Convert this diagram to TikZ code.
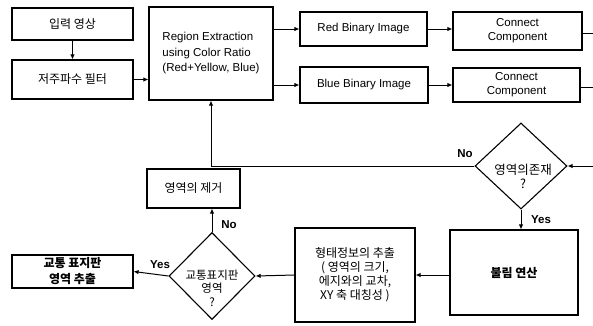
\documentclass[tikz,border=0pt]{standalone}
\usepackage{fontspec}
\setmainfont{Liberation Sans}
\newfontfamily\kr{Noto Sans CJK KR}
\usetikzlibrary{shapes.geometric,arrows.meta}
\begin{document}
\begin{tikzpicture}[x=1pt,y=-1pt,
  box/.style={draw,line width=1.1pt,inner sep=0pt,align=center},
  dia/.style={draw,diamond,line width=1.1pt,inner sep=0pt},
  arr/.style={line width=1pt,-{Latex[length=5pt,width=4.5pt]}},
  ln/.style={line width=1pt},
  en/.style={font=\fontsize{11.5}{14}\selectfont},
  ko/.style={font=\kr\fontsize{12}{15}\selectfont},
  lbl/.style={font=\bfseries\fontsize{11.5}{14}\selectfont}]
\useasboundingbox (0,0) rectangle (593,325);
% boxes
\node[box,ko,minimum width=121pt,minimum height=32pt] (in) at (72.5,24) {입력 영상};
\node[box,ko,minimum width=121pt,minimum height=39pt] (lpf) at (72.5,79.5) {저주파수 필터};
\node[box,minimum width=124pt,minimum height=93pt,align=left,font=\fontsize{11.5}{15.5}\selectfont] (reg) at (211,53.5) {Region Extraction\\using Color Ratio\\(Red+Yellow, Blue)};
\node[box,en,minimum width=127pt,minimum height=34pt] (red) at (363.5,29) {Red Binary Image};
\node[box,en,minimum width=128pt,minimum height=36pt] (blue) at (364,85) {Blue Binary Image};
\node[box,en,minimum width=129pt,minimum height=38pt] (cc1) at (517.5,31) {Connect\\Component};
\node[box,en,minimum width=127pt,minimum height=34pt] (cc2) at (516.5,85) {Connect\\Component};
\node[dia,minimum width=92pt,minimum height=86pt] (d1) at (521,166) {};
\node[ko,align=center,font=\kr\fontsize{12.5}{14}\selectfont] (d1t) at (523,176) {영역의존재\\?};
\node[box,ko,font=\kr\bfseries\fontsize{12}{15}\selectfont,minimum width=128pt,minimum height=85pt] (bool) at (514,272.5) {불림 연산};
\node[box,ko,font=\kr\fontsize{12}{14}\selectfont,minimum width=120pt,minimum height=94pt] (shp) at (355,275) {형태정보의 추출\\( 영역의 크기,\\에지와의 교차,\\XY 축 대칭성 )};
\node[dia,minimum width=86pt,minimum height=87pt] (d2) at (212,276) {};
\node[ko,align=center,font=\kr\fontsize{11.5}{13.5}\selectfont] (d2t) at (212,288) {교통표지판\\영역\\?};
\node[box,ko,minimum width=93pt,minimum height=39pt] (rm) at (193.5,188.5) {영역의 제거};
\node[box,ko,font=\kr\bfseries\fontsize{12}{16}\selectfont,minimum width=121pt,minimum height=33pt] (sign) at (72.5,271.5) {교통 표지판\\영역 추출};
% free ends
\coordinate (o1) at (593,33);
\coordinate (o2) at (593,87);
\coordinate (i3) at (593,166);
% connectors
\draw[arr] (in) -- (lpf);
\draw[arr] (lpf.east) -- (lpf.east -| reg.west);
\draw[arr] (reg.east |- red.west) -- (red.west);
\draw[arr] (reg.east |- blue.west) -- (blue.west);
\draw[arr] (red.east) -- (red.east -| cc1.west);
\draw[arr] (blue.east) -- (blue.east -| cc2.west);
\draw[ln] (cc1.east |- o1) -- (o1);
\draw[ln] (cc2.east |- o2) -- (o2);
\draw[arr] (i3) -- (d1.east);
\draw[arr] (d1.west) -| (reg.south);
\draw[arr] (d1.south) -- (d1.south |- bool.north);
\draw[arr] (shp.east -| bool.west) -- (shp.east);
\draw[arr] (shp.west) -- (d2.east);
\draw[arr] (d2.north) -- (d2.north |- rm.south);
\draw[arr] (d2.west) -- (sign.east);
% labels
\node[lbl] (n1) at (465,154) {No};
\node[lbl] (y1) at (541,220) {Yes};
\node[lbl] (n2) at (229,225) {No};
\node[lbl] (y2) at (160,265) {Yes};
\end{tikzpicture}
\end{document}
